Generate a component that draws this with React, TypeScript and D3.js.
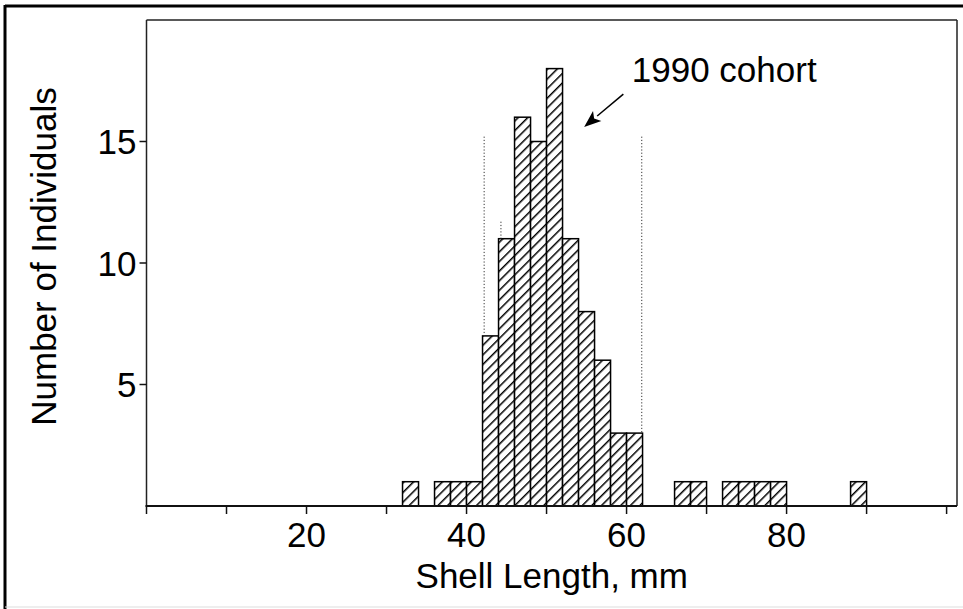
import React from "react";
import * as d3 from "d3";

// Histogram bins (left edge of 2-mm bin) and counts
const binStarts = [32, 36, 38, 40, 42, 44, 46, 48, 50, 52, 54, 56, 58, 60, 66, 68, 72, 74, 76, 78, 88];
const binCounts = [1, 1, 1, 1, 7, 11, 16, 15, 18, 11, 8, 6, 3, 3, 1, 1, 1, 1, 1, 1, 1];
const binWidth = 2;

const xTicks = [0, 10, 20, 30, 40, 50, 60, 70, 80, 90, 100];
const xTickLabels = [20, 40, 60, 80];
const yTicks = [5, 10, 15];

// dotted cohort boundary lines: x position (mm), top and bottom (count units)
const dottedX = [42.2, 44.3, 61.9];
const dottedTop = [15.2, 11.7, 15.2];
const dottedBottom = [7, 11, 3];

const annotationText = "1990 cohort";
const xTitle = "Shell Length, mm";
const yTitle = "Number of Individuals";

const W = 963;
const H = 609;
const FONT = "'Liberation Sans', Arial, Helvetica, sans-serif";

export default function App() {
  const x = d3.scaleLinear().domain([0, 101.3]).range([146.5, 957]);
  const y = d3.scaleLinear().domain([0, 20]).range([506, 20]);

  const bars = binStarts.map((s, i) => ({ s, c: binCounts[i] }));

  // arrow (data coords)
  const arrowFrom = { x: 59.6, y: 16.95 };
  const arrowTo = { x: 54.7, y: 15.6 };
  const ax1 = x(arrowFrom.x), ay1 = y(arrowFrom.y);
  const ax2 = x(arrowTo.x), ay2 = y(arrowTo.y);
  const ang = Math.atan2(ay2 - ay1, ax2 - ax1);
  const hl = 17, hw = 6.5;
  const bx = ax2 - hl * Math.cos(ang), by = ay2 - hl * Math.sin(ang);
  const px = -Math.sin(ang), py = Math.cos(ang);
  const head = `M${ax2},${ay2} L${bx + px * hw},${by + py * hw} L${bx + 4 * Math.cos(ang)},${by + 4 * Math.sin(ang)} L${bx - px * hw},${by - py * hw} Z`;

  return (
    <svg
      width={W}
      height={H}
      style={{ position: "absolute", left: 0, top: 0, background: "#fff" }}
    >
      <defs>
        <pattern
          id="hatch"
          patternUnits="userSpaceOnUse"
          width={6.8}
          height={6.8}
          patternTransform="rotate(45)"
        >
          <rect width={6.8} height={6.8} fill="#fff" />
          <line x1={0} y1={0} x2={0} y2={6.8} stroke="#000" strokeWidth={3} />
        </pattern>
      </defs>

      {/* outer frame */}
      <line x1={5} y1={6} x2={W} y2={6} stroke="#000" strokeWidth={3} />
      <line x1={5} y1={5} x2={5} y2={H} stroke="#000" strokeWidth={3} />
      <line x1={5} y1={H - 2} x2={W} y2={H - 2} stroke="#ddd" strokeWidth={1} />

      {/* plot box */}
      <line x1={x(0)} y1={y(20)} x2={957} y2={y(20)} stroke="#222" strokeWidth={1.5} />
      <line x1={957} y1={y(20)} x2={957} y2={y(0)} stroke="#222" strokeWidth={1.5} />
      <line x1={x(0)} y1={y(20)} x2={x(0)} y2={y(0)} stroke="#222" strokeWidth={1.5} />

      {/* bars */}
      {bars.map((b, i) => (
        <rect
          key={i}
          x={x(b.s)}
          y={y(b.c)}
          width={x(b.s + binWidth) - x(b.s)}
          height={y(0) - y(b.c)}
          fill="url(#hatch)"
          stroke="#000"
          strokeWidth={1.5}
        />
      ))}

      {/* x axis */}
      <line x1={x(0) - 1} y1={y(0)} x2={957} y2={y(0)} stroke="#111" strokeWidth={2} />
      {xTicks.map((t) => (
        <line key={t} x1={x(t)} y1={y(0)} x2={x(t)} y2={y(0) + 8} stroke="#111" strokeWidth={1.5} />
      ))}
      {xTickLabels.map((t) => (
        <text key={t} x={x(t)} y={y(0) + 41} textAnchor="middle" fontFamily={FONT} fontSize={35} fill="#000">
          {t}
        </text>
      ))}

      {/* y axis ticks */}
      {yTicks.map((t) => (
        <g key={t}>
          <line x1={x(0) - 7} y1={y(t)} x2={x(0)} y2={y(t)} stroke="#111" strokeWidth={1.5} />
          <text x={x(0) - 10} y={y(t) + 12.5} textAnchor="end" fontFamily={FONT} fontSize={35} fill="#000">
            {t}
          </text>
        </g>
      ))}

      {/* dotted lines */}
      {dottedX.map((dx, i) => (
        <line
          key={i}
          x1={x(dx)}
          x2={x(dx)}
          y1={y(dottedTop[i])}
          y2={y(dottedBottom[i])}
          stroke="#333"
          strokeWidth={1}
          strokeDasharray="1.2,2"
        />
      ))}

      {/* annotation */}
      <line x1={ax1} y1={ay1} x2={bx} y2={by} stroke="#000" strokeWidth={1.5} />
      <path d={head} fill="#000" />
      <text x={x(60.65)} y={y(17.46)} fontFamily={FONT} fontSize={35} fill="#000">
        {annotationText}
      </text>

      {/* titles */}
      <text
        x={(x(0) + 957) / 2}
        y={588}
        textAnchor="middle"
        fontFamily={FONT}
        fontSize={35}
        fill="#000"
      >
        {xTitle}
      </text>
      <text
        transform={`translate(56, ${256.5}) rotate(-90)`}
        textAnchor="middle"
        fontFamily={FONT}
        fontSize={35}
        fill="#000"
      >
        {yTitle}
      </text>
    </svg>
  );
}
